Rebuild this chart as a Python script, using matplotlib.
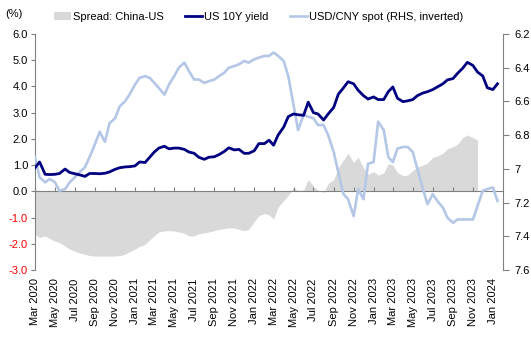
import numpy as np
import pandas as pd
import matplotlib
matplotlib.use("Agg")
import matplotlib.pyplot as plt
import matplotlib.dates as mdates
from matplotlib.ticker import FixedLocator

plt.rcParams['font.family'] = ['Liberation Sans', 'DejaVu Sans']
plt.rcParams['font.size'] = 8

# semi-monthly observations (1st and 15th), Mar 2020 - Jan 2024
dates = pd.date_range("2020-03-01", "2024-01-15", freq="SMS")

# US 10Y yield (%)
us10y = [
    0.90, 1.12, 0.65, 0.64, 0.65, 0.68, 0.85, 0.72, 0.67, 0.63,
    0.57, 0.68, 0.68, 0.67, 0.69, 0.74, 0.84, 0.90, 0.93, 0.94,
    0.97, 1.12, 1.10, 1.30, 1.50, 1.65, 1.72, 1.62, 1.65, 1.65,
    1.60, 1.50, 1.45, 1.30, 1.22, 1.30, 1.32, 1.40, 1.52, 1.66,
    1.58, 1.60, 1.45, 1.45, 1.55, 1.82, 1.82, 1.95, 1.76, 2.15,
    2.45, 2.85, 2.95, 2.92, 2.90, 3.40, 3.00, 2.95, 2.72, 2.95,
    3.20, 3.70, 3.95, 4.18, 4.10, 3.85, 3.65, 3.52, 3.60, 3.50,
    3.50, 3.80, 3.98, 3.55, 3.42, 3.45, 3.50, 3.65, 3.75, 3.80,
    3.88, 3.98, 4.10, 4.25, 4.30, 4.50, 4.70, 4.92, 4.80, 4.55,
    4.40, 3.95, 3.88, 4.10,
]

# USD/CNY spot (RHS, inverted)
usdcny = [
    6.93, 7.05, 7.08, 7.06, 7.08, 7.13, 7.12, 7.08, 7.05, 7.02,
    6.99, 6.93, 6.85, 6.78, 6.84, 6.73, 6.70, 6.63, 6.60, 6.56,
    6.50, 6.46, 6.45, 6.46, 6.49, 6.52, 6.56, 6.50, 6.45, 6.40,
    6.37, 6.42, 6.47, 6.47, 6.49, 6.48, 6.47, 6.45, 6.43, 6.40,
    6.39, 6.38, 6.36, 6.37, 6.35, 6.34, 6.33, 6.33, 6.31, 6.33,
    6.36, 6.45, 6.62, 6.77, 6.68, 6.69, 6.70, 6.74, 6.74, 6.80,
    6.90, 7.02, 7.15, 7.18, 7.28, 7.12, 7.18, 6.97, 6.96, 6.72,
    6.77, 6.93, 6.96, 6.88, 6.87, 6.87, 6.90, 7.00, 7.12, 7.21,
    7.15, 7.19, 7.23, 7.29, 7.32, 7.30, 7.30, 7.30, 7.30, 7.22,
    7.13, 7.12, 7.11, 7.19,
]

# Spread: China-US (%), ends mid Nov 2023
spread = [
    -1.64, -1.76, -1.70, -1.80, -1.90, -1.95, -2.09, -2.20, -2.28, -2.35,
    -2.40, -2.45, -2.47, -2.47, -2.47, -2.47, -2.47, -2.45, -2.40, -2.30,
    -2.21, -2.10, -2.02, -1.85, -1.70, -1.55, -1.51, -1.50, -1.51, -1.55,
    -1.60, -1.70, -1.70, -1.62, -1.58, -1.55, -1.50, -1.45, -1.42, -1.39,
    -1.40, -1.45, -1.50, -1.45, -1.15, -0.92, -0.85, -0.90, -1.05, -0.60,
    -0.35, -0.15, 0.15, 0.02, 0.05, 0.45, 0.20, 0.05, -0.05, 0.30,
    0.45, 0.90, 1.20, 1.45, 1.10, 1.30, 0.90, 0.65, 0.75, 0.62,
    0.70, 1.05, 1.00, 0.72, 0.60, 0.62, 0.80, 0.92, 1.00, 1.08,
    1.30, 1.35, 1.45, 1.62, 1.70, 1.80, 2.05, 2.15, 2.05, 1.95,
]

left_ticks = np.arange(-3, 6.01, 1.0)
right_ticks = np.round(np.arange(6.2, 7.61, 0.2), 1)

grey_axis = '#808080'

fig = plt.figure(figsize=(5.31, 3.39), dpi=100)
ax = fig.add_axes([35 / 531, 1 - 270 / 339, 468 / 531, 236 / 339])

ax.fill_between(dates[:len(spread)], spread, 0, color='#D9D9D9', linewidth=0,
                label='Spread: China-US')
ax.set_ylim(-3, 6)
ax.set_xlim(pd.Timestamp("2020-03-01"), pd.Timestamp("2024-02-01"))

# light blue CNY line in the middle layer
ax2 = ax.twinx()
ax2.plot(dates, usdcny, color='#B4C7E7', lw=1.9, label='USD/CNY spot (RHS, inverted)')
ax2.set_ylim(7.6, 6.2)

# navy line on top
ax3 = ax.twinx()
ax3.plot(dates, us10y, color='#000080', lw=2.0, label='US 10Y yield')
ax3.set_ylim(-3, 6)
ax3.axis('off')

# left axis
ax.yaxis.set_major_locator(FixedLocator(left_ticks))
ax.set_yticklabels([f'{v:.1f}' for v in left_ticks])
for lab, v in zip(ax.get_yticklabels(), left_ticks):
    if v < 0:
        lab.set_color('red')
ax.tick_params(axis='y', direction='out', length=3, color=grey_axis, pad=2)
ax.spines['left'].set_color(grey_axis)
ax.spines['top'].set_visible(False)
ax.spines['right'].set_visible(False)

# x axis crosses at zero, labels at bottom
ax.spines['bottom'].set_position(('data', 0))
ax.spines['bottom'].set_color(grey_axis)
ax.xaxis.set_major_locator(mdates.MonthLocator(bymonth=[1, 3, 5, 7, 9, 11]))
ax.tick_params(axis='x', direction='in', length=3, color=grey_axis, labelbottom=False)

sec = ax.secondary_xaxis(0)
sec.xaxis.set_major_locator(mdates.MonthLocator(bymonth=[1, 3, 5, 7, 9, 11]))
sec.xaxis.set_major_formatter(mdates.DateFormatter('%b %Y'))
sec.tick_params(length=0, labelrotation=90, pad=6)
sec.spines['bottom'].set_visible(False)

# right axis
ax2.yaxis.set_major_locator(FixedLocator(right_ticks))
ax2.set_yticklabels([f'{v:g}' for v in right_ticks])
ax2.tick_params(axis='y', direction='out', length=4, color=grey_axis, pad=4)
ax2.spines['right'].set_color(grey_axis)
for s in ['left', 'top', 'bottom']:
    ax2.spines[s].set_visible(False)

fig.text(5 / 531, 1 - 14 / 339, '(%)', ha='left', va='center')

h1, l1 = ax.get_legend_handles_labels()
h2, l2 = ax2.get_legend_handles_labels()
h3, l3 = ax3.get_legend_handles_labels()
fig.legend(h1 + h3 + h2, l1 + l3 + l2, loc='center', bbox_to_anchor=(0.487, 0.95),
           ncol=3, frameon=False, handlelength=1.5, handletextpad=0.15,
           columnspacing=2.0, borderaxespad=0)

fig.savefig('out.png', dpi=100)
